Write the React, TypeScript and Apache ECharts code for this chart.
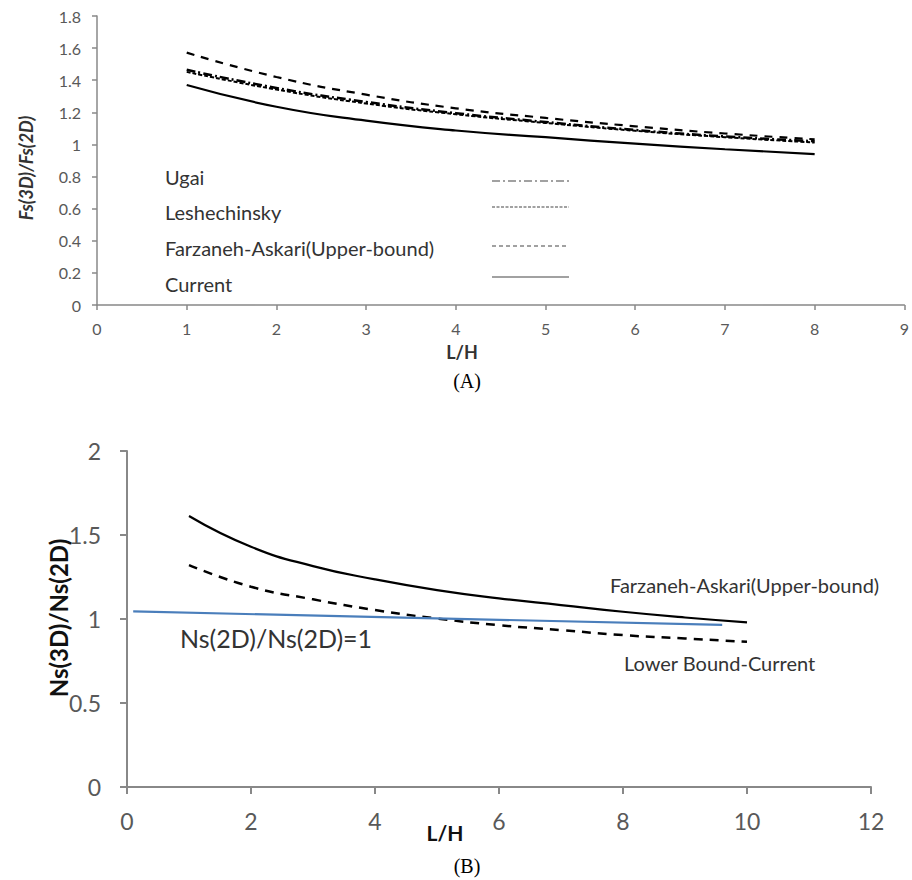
import React, { useEffect, useRef } from "react";
import * as echarts from "echarts";

// Chart A data
const xA = [1, 2, 3, 4, 5, 6, 7, 8];
const currentA = [1.37, 1.235, 1.148, 1.087, 1.045, 1.005, 0.97, 0.94];
const upperA = [1.572, 1.42, 1.31, 1.225, 1.165, 1.113, 1.068, 1.032];
const ugaiA = [1.465, 1.352, 1.265, 1.195, 1.14, 1.09, 1.05, 1.02];
const leshA = [1.452, 1.342, 1.255, 1.188, 1.134, 1.085, 1.045, 1.012];
const legendNamesA = ["Ugai", "Leshechinsky", "Farzaneh-Askari(Upper-bound)", "Current"];

// Chart B data
const xB = [1, 2, 3, 4, 5, 6, 7, 8, 9, 10];
const upperB = [1.613, 1.43, 1.315, 1.236, 1.172, 1.123, 1.083, 1.043, 1.009, 0.98];
const lowerB = [1.321, 1.192, 1.117, 1.053, 1.003, 0.963, 0.934, 0.904, 0.884, 0.864];
const refX = [0.1, 9.6];
const refY = [1.045, 0.965];

const FONT = "Lato, 'Open Sans', sans-serif";
const AXIS = "#888888";
const LABEL = "#595959";

const pts = (xs: number[], ys: number[]) => xs.map((x, i) => [x, ys[i]]);

export default function App() {
  const ref = useRef<HTMLDivElement>(null);
  useEffect(() => {
    document.body.style.margin = "0";
    const chart = echarts.init(ref.current!, undefined, { renderer: "svg" });
    const axisCommon = {
      axisLine: { show: true, lineStyle: { color: AXIS, width: 1.5 } },
      axisTick: { show: true, length: 5, lineStyle: { color: AXIS, width: 1.5 } },
      splitLine: { show: false },
    };
    const legendY = [177, 212, 248, 284];
    const sampleY = [181, 207, 246, 277];
    const sampleDash: any[] = [[8, 3, 2, 3], [3, 1.5], [4, 3], "solid"];
    const graphics: any[] = [];
    legendNamesA.forEach((n, i) => {
      graphics.push({
        type: "text",
        x: 165,
        y: legendY[i],
        style: { text: n, fontSize: 20, fontFamily: FONT, fill: "#333", verticalAlign: "middle" },
      });
      graphics.push({
        type: "line",
        shape: { x1: 492, y1: sampleY[i], x2: 569, y2: sampleY[i] },
        style: { stroke: "#444", lineWidth: 1.2, lineDash: sampleDash[i] },
      });
    });
    graphics.push(
      {
        type: "text",
        x: 26,
        y: 168,
        rotation: Math.PI / 2,
        style: {
          text: "Fs(3D)/Fs(2D)",
          fontSize: 18,
          fontWeight: "bold",
          fontStyle: "italic",
          fontFamily: FONT,
          fill: "#333",
          align: "center",
          verticalAlign: "middle",
        },
      },
      {
        type: "text",
        x: 462,
        y: 352,
        style: { text: "L/H", fontSize: 18, fontWeight: "bold", fontFamily: FONT, fill: "#333", align: "center", verticalAlign: "middle" },
      },
      {
        type: "text",
        x: 467,
        y: 381,
        style: { text: "(A)", fontSize: 20, fontFamily: "'Liberation Serif', serif", fill: "#000", align: "center", verticalAlign: "middle" },
      },
      {
        type: "text",
        x: 58,
        y: 618,
        rotation: Math.PI / 2,
        style: {
          text: "Ns(3D)/Ns(2D)",
          fontSize: 24,
          fontWeight: "bold",
          fontFamily: FONT,
          fill: "#111",
          align: "center",
          verticalAlign: "middle",
        },
      },
      {
        type: "text",
        x: 445,
        y: 832,
        style: { text: "L/H", fontSize: 21, fontWeight: "bold", fontFamily: FONT, fill: "#111", align: "center", verticalAlign: "middle" },
      },
      {
        type: "text",
        x: 467,
        y: 866,
        style: { text: "(B)", fontSize: 20, fontFamily: "'Liberation Serif', serif", fill: "#000", align: "center", verticalAlign: "middle" },
      },
      {
        type: "text",
        x: 610,
        y: 585,
        style: { text: "Farzaneh-Askari(Upper-bound)", fontSize: 20, fontFamily: FONT, fill: "#333", verticalAlign: "middle" },
      },
      {
        type: "text",
        x: 624,
        y: 663,
        style: { text: "Lower Bound-Current", fontSize: 20, fontFamily: FONT, fill: "#333", verticalAlign: "middle" },
      },
      {
        type: "text",
        x: 180,
        y: 638,
        style: { text: "Ns(2D)/Ns(2D)=1", fontSize: 25, fontFamily: FONT, fill: "#333", verticalAlign: "middle" },
      }
    );

    const lineSeries = (name: string, axis: number, data: number[][], lineStyle: any) => ({
      name,
      type: "line",
      xAxisIndex: axis,
      yAxisIndex: axis,
      data,
      smooth: true,
      showSymbol: false,
      lineStyle,
    });

    chart.setOption({
      animation: false,
      grid: [
        { left: 97, top: 16, width: 810, height: 289 },
        { left: 127, top: 451, width: 744, height: 336 },
      ],
      xAxis: [
        {
          gridIndex: 0,
          type: "value",
          min: 0,
          max: 9,
          interval: 1,
          ...axisCommon,
          axisLabel: { fontSize: 16, color: LABEL, fontFamily: FONT, margin: 15 },
        },
        {
          gridIndex: 1,
          type: "value",
          min: 0,
          max: 12,
          interval: 2,
          ...axisCommon,
          axisLine: { show: true, lineStyle: { color: AXIS, width: 2 } },
          axisTick: { show: true, length: 7, lineStyle: { color: AXIS, width: 2 } },
          axisLabel: { fontSize: 23, color: LABEL, fontFamily: FONT, margin: 22 },
        },
      ],
      yAxis: [
        {
          gridIndex: 0,
          type: "value",
          min: 0,
          max: 1.8,
          interval: 0.2,
          ...axisCommon,
          axisLabel: { fontSize: 16, color: LABEL, fontFamily: FONT, margin: 16 },
        },
        {
          gridIndex: 1,
          type: "value",
          min: 0,
          max: 2,
          interval: 0.5,
          ...axisCommon,
          axisLine: { show: true, lineStyle: { color: AXIS, width: 2 } },
          axisTick: { show: true, length: 7, lineStyle: { color: AXIS, width: 2 } },
          axisLabel: { fontSize: 23, color: LABEL, fontFamily: FONT, margin: 26 },
        },
      ],
      series: [
        lineSeries("Current", 0, pts(xA, currentA), { color: "#000", width: 2.2 }),
        lineSeries("Farzaneh-Askari(Upper-bound)", 0, pts(xA, upperA), { color: "#000", width: 2.2, type: [8, 7] }),
        lineSeries("Leshechinsky", 0, pts(xA, leshA), { color: "#000", width: 2, type: [4, 2] }),
        lineSeries("Ugai", 0, pts(xA, ugaiA), { color: "#000", width: 2.5, type: [9, 3, 2, 3] }),
        lineSeries("Upper B", 1, pts(xB, upperB), { color: "#000", width: 2.2 }),
        lineSeries("Lower B", 1, pts(xB, lowerB), { color: "#000", width: 2.5, type: [9, 7] }),
        {
          name: "Ref",
          type: "line",
          xAxisIndex: 1,
          yAxisIndex: 1,
          data: pts(refX, refY),
          showSymbol: false,
          lineStyle: { color: "#4a7ebb", width: 2.2 },
        },
      ],
      graphic: graphics,
    });
    return () => chart.dispose();
  }, []);
  return <div ref={ref} style={{ width: 912, height: 880 }} />;
}
